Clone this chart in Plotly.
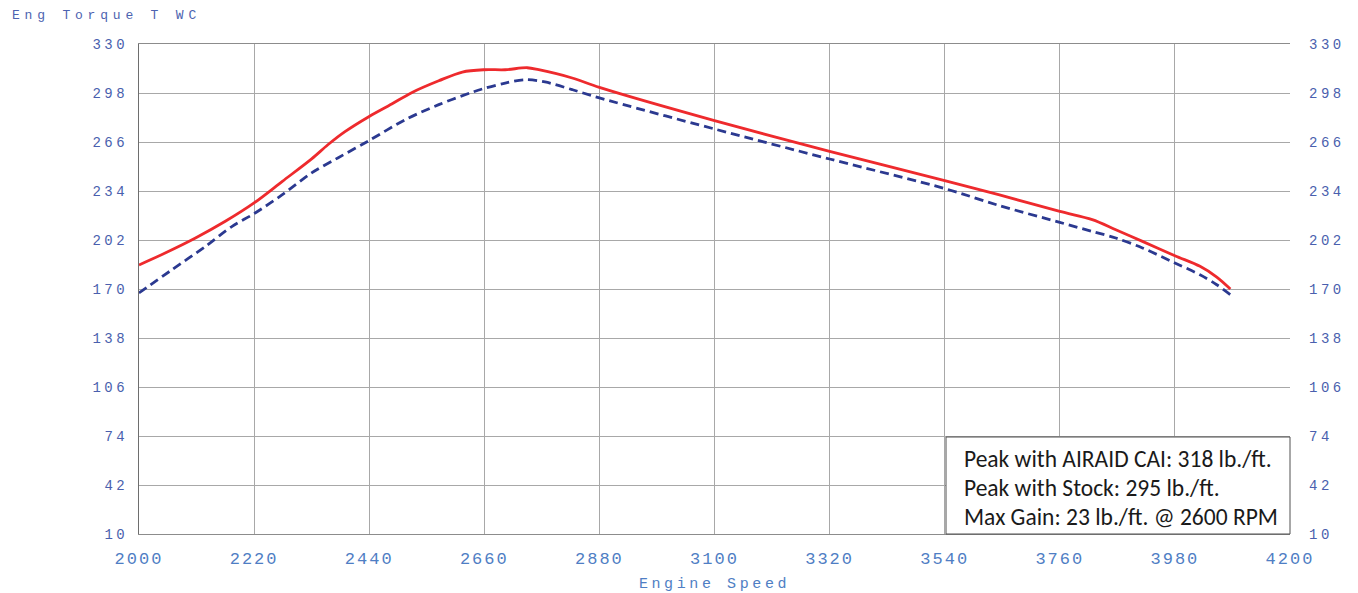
import plotly.graph_objects as go

# ---- data ----
rpm_airaid = [2000, 2050, 2108, 2165, 2220, 2274, 2330, 2361, 2393, 2440, 2483, 2522, 2573,
              2618, 2660, 2700, 2742, 2764, 2828, 2880, 3100, 3320, 3540, 3643, 3760, 3822,
              3867, 3918, 3980, 4028, 4060, 4086]
torque_airaid = [185.7, 193.5, 203.3, 214.2, 226.2, 240.3, 255.0, 264.2, 272.6, 282.7, 290.8,
                 298.4, 306.0, 311.7, 313.2, 313.2, 314.5, 313.2, 307.8, 301.7, 280.0, 259.9,
                 240.8, 231.6, 220.7, 215.3, 208.7, 201.1, 191.7, 184.8, 177.8, 170.0]

rpm_stock = [2000, 2063, 2127, 2178, 2220, 2274, 2330, 2380, 2440, 2509, 2573, 2636, 2660,
             2700, 2738, 2776, 2828, 2880, 3100, 3320, 3540, 3643, 3760, 3822, 3867, 3918,
             3980, 4028, 4060, 4086]
torque_stock = [167.4, 182.6, 197.8, 210.9, 219.2, 231.6, 245.8, 255.6, 267.0, 280.6, 290.4,
                298.4, 301.0, 304.5, 306.7, 305.2, 300.2, 294.8, 274.5, 254.9, 235.6, 224.6,
                213.5, 207.6, 203.3, 196.8, 187.0, 179.3, 172.8, 166.3]

x_ticks = [2000, 2220, 2440, 2660, 2880, 3100, 3320, 3540, 3760, 3980, 4200]
y_ticks = [10, 42, 74, 106, 138, 170, 202, 234, 266, 298, 330]

info_lines = ["Peak with AIRAID CAI: 318 lb./ft.",
              "Peak with Stock: 295 lb./ft.",
              "Max Gain: 23 lb./ft. @ 2600 RPM"]

MONO = "Courier New, Liberation Mono, monospace"
YCOL = "#4a5fae"
XCOL = "#4f7ec4"
GRID = "#a8a8a8"

fig = go.Figure()
fig.add_trace(go.Scatter(x=rpm_stock, y=torque_stock, mode="lines",
                         line=dict(color="#2b3990", width=2.8, dash="9px,5px",
                                   shape="spline", smoothing=0.9),
                         showlegend=False))
fig.add_trace(go.Scatter(x=rpm_airaid, y=torque_airaid, mode="lines",
                         line=dict(color="#ee2a2d", width=2.8, shape="spline", smoothing=0.9),
                         showlegend=False))
# invisible trace to drive the right-hand axis
fig.add_trace(go.Scatter(x=[rpm_stock[0]], y=[torque_stock[0]], yaxis="y2", mode="markers",
                         marker=dict(opacity=0), showlegend=False, hoverinfo="skip"))

fig.update_layout(
    width=1358, height=593,
    margin=dict(l=139, r=68, t=44, b=59, autoexpand=False),
    paper_bgcolor="white", plot_bgcolor="white",
    xaxis=dict(range=[2000, 4200], tickvals=x_ticks, ticktext=[str(v) for v in x_ticks],
               showgrid=True, gridcolor=GRID, gridwidth=1, zeroline=False, automargin=False,
               showline=True, linecolor="#8c8c8c", linewidth=1, mirror=True, ticks="",
               tickfont=dict(family=MONO, size=17, color=XCOL), ticklabelstandoff=9,
               title=dict(text="Engine Speed", font=dict(family=MONO, size=15, color=XCOL),
                          standoff=10)),
    yaxis=dict(range=[10, 330], tickvals=y_ticks, ticktext=[str(v) for v in y_ticks],
               showgrid=True, gridcolor=GRID, gridwidth=1, zeroline=False, automargin=False,
               showline=True, linecolor="#6e6e6e", linewidth=1, ticks="",
               tickfont=dict(family=MONO, size=14, color=YCOL), ticklabelstandoff=7),
    yaxis2=dict(range=[10, 330], tickvals=y_ticks, ticktext=[str(v) for v in y_ticks],
                overlaying="y", side="right", showgrid=False, zeroline=False, automargin=False,
                showline=False, ticks="",
                tickfont=dict(family=MONO, size=14, color=YCOL), ticklabelstandoff=18),
)

fig.add_annotation(text="Eng Torque T WC", xref="paper", yref="paper",
                   x=(106 - 139) / 1151, y=(534 - 16) / 490, xanchor="center", yanchor="middle",
                   showarrow=False, font=dict(family=MONO, size=13, color="#4d63b0"))
fig.add_annotation(text="Engine Speed", xref="paper", yref="paper",
                   x=0.5, y=1.084, xanchor="center", yanchor="bottom", showarrow=False,
                   font=dict(family=MONO, size=15, color=XCOL))

# info box
fig.add_shape(type="rect", xref="paper", yref="paper",
              x0=(946 - 139) / 1151, x1=1.0, y0=0.0, y1=(534 - 437) / 490,
              line=dict(color="#505050", width=1), fillcolor="white", layer="above")
for i, t in enumerate(info_lines):
    fig.add_annotation(text=t, xref="paper", yref="paper",
                       x=(962 - 139) / 1151, y=(534 - (459 + 29 * i)) / 490,
                       xanchor="left", yanchor="middle", showarrow=False,
                       font=dict(family="Carlito, Lato, sans-serif", size=23.5, color="#1a1a1a"))

post = """
document.body.style.margin = '0px';
document.body.style.padding = '0px';
var gd = document.getElementById('{plot_id}');
function sp(){
  gd.querySelectorAll('.xtick text').forEach(function(t){t.setAttribute('letter-spacing','2px');});
  gd.querySelectorAll('.ytick text, .y2tick text').forEach(function(t){t.setAttribute('letter-spacing','3.5px');});
  gd.querySelectorAll('.g-xtitle text').forEach(function(t){t.setAttribute('letter-spacing','3.6px');});
  var anns = gd.querySelectorAll('.annotation-text');
  if (anns.length > 1) { anns[0].setAttribute('letter-spacing','4.8px'); anns[1].setAttribute('letter-spacing','3.6px'); }
}
sp(); setTimeout(sp, 0); setTimeout(sp, 200);
gd.on('plotly_afterplot', sp);
"""
fig.write_html("out.html", post_script=post, config={"displayModeBar": False})
